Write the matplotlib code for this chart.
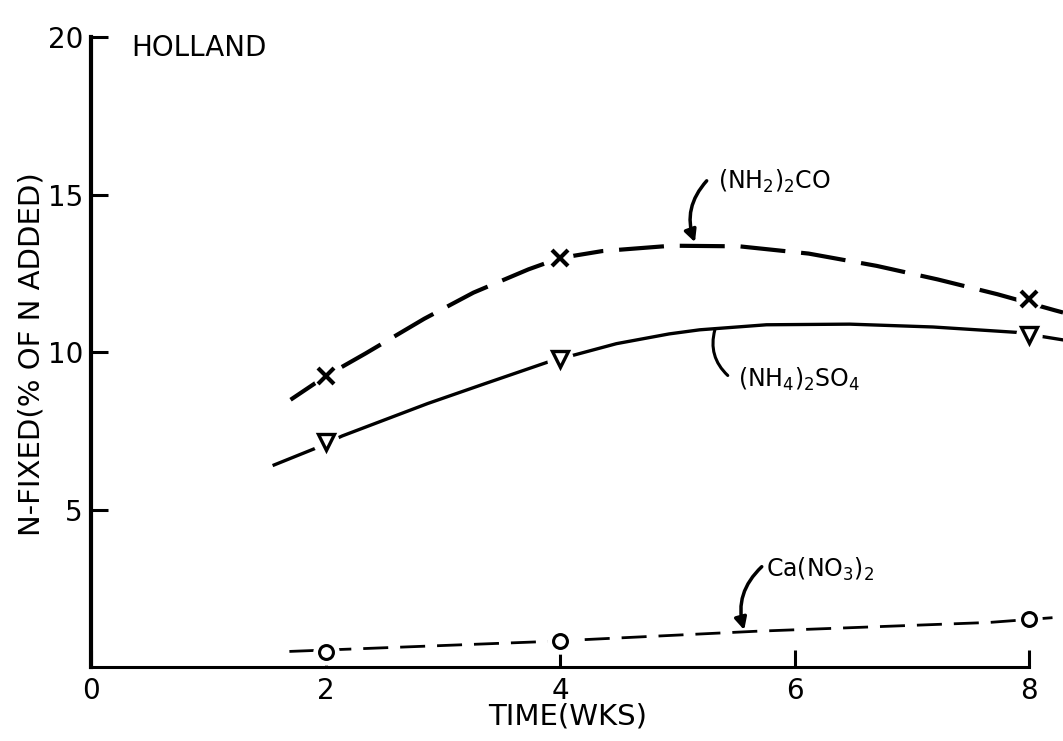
import matplotlib
matplotlib.use("Agg")
import matplotlib.pyplot as plt

plt.rcParams["font.family"] = ["DejaVu Sans"]
plt.rcParams["mathtext.default"] = "regular"

# Sampling times (weeks) and measured N fixed (% of N added)
weeks = [2, 4, 8]
urea = [9.25, 13.0, 11.7]          # (NH2)2CO
amm_sulfate = [7.15, 9.8, 10.55]   # (NH4)2SO4
ca_nitrate = [0.5, 0.85, 1.55]     # Ca(NO3)2

# Hand-fitted trend curves
urea_curve_x = [1.70, 2.0, 2.34, 2.84, 3.26, 3.73, 4.0, 4.36, 4.95, 5.53, 6.12, 6.70, 7.22, 7.73, 8.22, 8.29]
urea_curve_y = [8.5, 9.25, 9.97, 11.07, 11.9, 12.64, 13.0, 13.22, 13.39, 13.37, 13.14, 12.75, 12.32, 11.85, 11.34, 11.27]
sulf_curve_x = [1.56, 1.92, 2.14, 2.87, 3.35, 3.89, 4.48, 4.93, 5.19, 5.76, 6.47, 7.18, 7.89, 8.29]
sulf_curve_y = [6.43, 6.97, 7.35, 8.38, 9.0, 9.69, 10.28, 10.59, 10.72, 10.88, 10.9, 10.81, 10.64, 10.4]
ca_curve_x = [1.69, 3.85, 5.67, 7.66, 8.34]
ca_curve_y = [0.51, 0.82, 1.15, 1.43, 1.62]

x_ticks = [0, 2, 4, 6, 8]
y_ticks = [5, 10, 15, 20]

fig = plt.figure(figsize=(10.63, 7.41), dpi=100)
ax = fig.add_axes([0.0859, 0.0992, 0.9141, 0.8502])
ax.set_xlim(0, 8.29)
ax.set_ylim(0, 20)

for side in ("top", "right"):
    ax.spines[side].set_visible(False)
ax.spines["left"].set_linewidth(3.0)
ax.spines["bottom"].set_linewidth(2.2)
ax.spines["left"].set_bounds(0, 20)
ax.spines["bottom"].set_bounds(0, 8)

ax.set_xticks(x_ticks)
ax.set_yticks(y_ticks)
ax.tick_params(axis="both", direction="in", length=12, width=2.2,
               labelsize=20, pad=7)
ax.tick_params(axis="y", pad=6)

# Trend curves
ln, = ax.plot(urea_curve_x, urea_curve_y, color="black", lw=3.0, zorder=2,
              solid_capstyle="butt")
ln.set_linestyle((0, (10.8, 3.8)))
ax.plot(sulf_curve_x, sulf_curve_y, color="black", lw=2.4, zorder=2)
ln, = ax.plot(ca_curve_x, ca_curve_y, color="black", lw=2.0, zorder=2)
ln.set_linestyle((0, (9.0, 4.3)))

# White gaps behind the point symbols
for vals in (urea, amm_sulfate, ca_nitrate):
    ax.plot(weeks, vals, ls="none", marker="o", ms=19, mfc="white",
            mec="none", zorder=3)

ax.plot(weeks, urea, ls="none", marker="x", ms=11, mew=3.0, color="black",
        zorder=4)
ax.plot(weeks, amm_sulfate, ls="none", marker="v", ms=11, mew=2.4,
        mfc="white", mec="black", zorder=4)
ax.plot(weeks, ca_nitrate, ls="none", marker="o", ms=10, mew=2.2,
        mfc="white", mec="black", zorder=4)

# Curve labels with leaders
ax.annotate("", xy=(5.15, 13.5), xytext=(5.25, 15.45),
            arrowprops=dict(arrowstyle="-|>", connectionstyle="arc3,rad=0.3",
                            lw=2.5, color="black", mutation_scale=18,
                            shrinkA=0, shrinkB=0))
ax.text(5.35, 15.2, r"$(NH_2)_2CO$", fontsize=17, ha="left", va="baseline")

ax.annotate("", xy=(5.32, 10.72), xytext=(5.43, 9.27),
            arrowprops=dict(arrowstyle="-", connectionstyle="arc3,rad=-0.3",
                            lw=2.2, color="black", shrinkA=0, shrinkB=0))
ax.text(5.52, 8.9, r"$(NH_4)_2SO_4$", fontsize=17, ha="left", va="baseline")

ax.annotate("", xy=(5.57, 1.19), xytext=(5.72, 3.2),
            arrowprops=dict(arrowstyle="-|>", connectionstyle="arc3,rad=0.3",
                            lw=2.5, color="black", mutation_scale=18,
                            shrinkA=0, shrinkB=0))
ax.text(5.76, 2.89, r"$Ca(NO_3)_2$", fontsize=17, ha="left", va="baseline")

ax.text(0.34, 19.67, "HOLLAND", fontsize=20, ha="left", va="center")

fig.text(568 / 1063, 1 - 717 / 741, "TIME(WKS)", fontsize=21,
         ha="center", va="center")
fig.text(32 / 1063, 1 - 354 / 741, "N-FIXED(% OF N ADDED)", fontsize=21,
         ha="center", va="center", rotation=90)

fig.savefig("out.png", dpi=100, facecolor="white")
